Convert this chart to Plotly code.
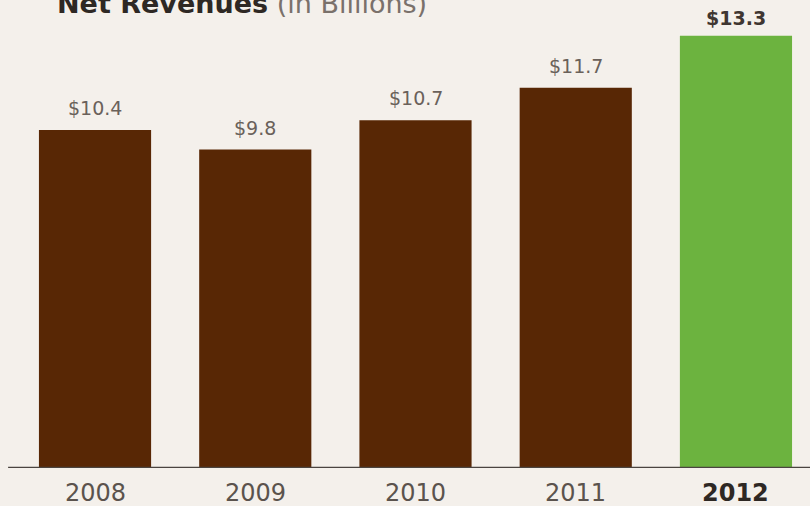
import plotly.graph_objects as go

# Net revenues by fiscal year, in billions of dollars
years = ["2008", "2009", "2010", "2011", "2012"]
revenues = [10.4, 9.8, 10.7, 11.7, 13.3]
value_labels = ["$10.4", "$9.8", "$10.7", "$11.7", "$13.3"]

BROWN = "#582705"
GREEN = "#6cb33f"
BG = "#f4f0eb"

bar_colors = [BROWN] * (len(years) - 1) + [GREEN]

fig = go.Figure()
fig.add_trace(go.Bar(
    x=list(range(len(years))),
    y=revenues,
    marker=dict(color=bar_colors, line=dict(width=0)),
    width=0.7,
    hoverinfo="skip",
))

# Value labels above each bar; the latest year is emphasised
for i, (v, lab) in enumerate(zip(revenues, value_labels)):
    last = i == len(years) - 1
    fig.add_annotation(
        x=i, y=v, xref="x", yref="y",
        text=f"<b>{lab}</b>" if last else lab,
        showarrow=False, yanchor="bottom", yshift=5 if last else 9,
        font=dict(family="DejaVu Sans", size=19,
                  color="#3f3631" if last else "#6a615a"),
    )

# Year labels under the baseline
for i, yr in enumerate(years):
    last = i == len(years) - 1
    fig.add_annotation(
        x=i, y=0, xref="x", yref="y",
        text=f"<b>{yr}</b>" if last else yr,
        showarrow=False, yanchor="top", yshift=-9,
        font=dict(family="DejaVu Sans", size=24,
                  color="#2e2824" if last else "#5b534d"),
    )

# Baseline rule
fig.add_shape(type="line", xref="paper", yref="y",
              x0=0.01, x1=1.0, y0=0, y1=0,
              line=dict(color="#4a4440", width=2.5))

# Chart title, running off the top edge
fig.add_annotation(
    x=0.068, y=1.0, xref="paper", yref="paper",
    xanchor="left", yanchor="bottom", yshift=-21,
    text="<b>Net Revenues</b> <span style='color:#7a716b'>(in Billions)</span>",
    showarrow=False,
    font=dict(family="DejaVu Sans", size=27, color="#2e2824"),
)

fig.update_layout(
    width=810, height=506,
    margin=dict(l=0, r=0, t=0, b=38),
    paper_bgcolor=BG, plot_bgcolor=BG,
    showlegend=False,
    xaxis=dict(range=[-0.593, 4.462], showticklabels=False, showgrid=False,
               zeroline=False, showline=False, fixedrange=True),
    yaxis=dict(range=[0, 14.4], showticklabels=False, showgrid=False,
               zeroline=False, showline=False, fixedrange=True),
)

fig.write_html("out.html")
